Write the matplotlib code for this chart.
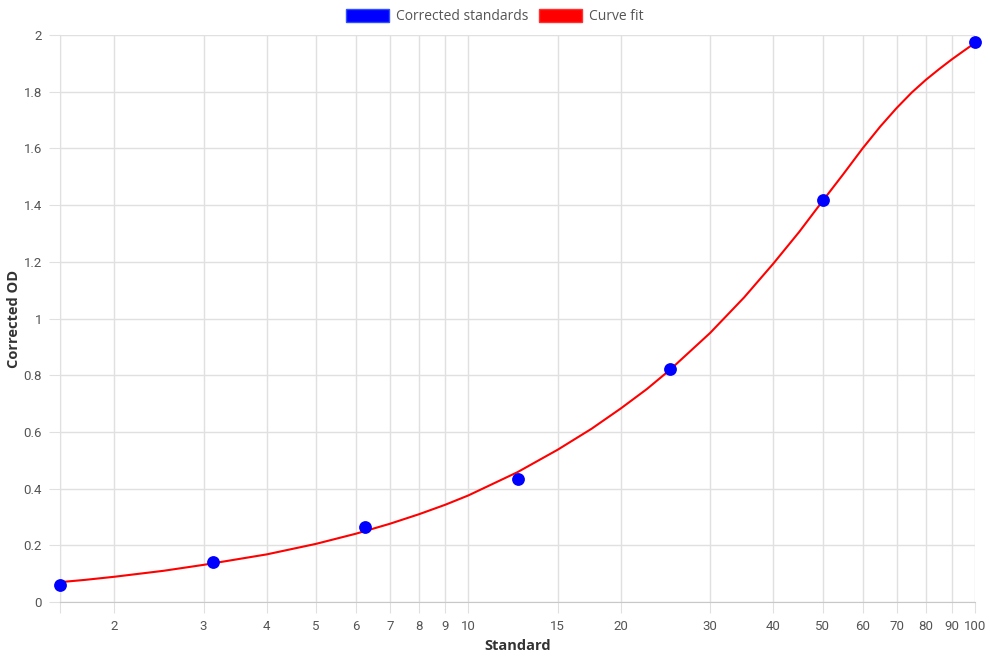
import matplotlib.pyplot as plt
from matplotlib.patches import Patch

# standards (measured points)
std_conc = [1.5625, 3.125, 6.25, 12.5, 25, 50, 100]
std_od = [0.060, 0.141, 0.266, 0.434, 0.823, 1.418, 1.976]

# curve fit
fit_conc = [1.5625, 1.75, 2, 2.5, 3, 4, 5, 6, 7, 8, 9, 10, 12.5, 15, 17.5, 20,
            22.5, 25, 30, 35, 40, 45, 50, 55, 60, 65, 70, 75, 80, 85, 90, 95, 100]
fit_od = [0.070, 0.078, 0.089, 0.110, 0.131, 0.168, 0.205, 0.241, 0.276, 0.310,
          0.343, 0.376, 0.458, 0.537, 0.611, 0.683, 0.751, 0.819, 0.949, 1.074,
          1.194, 1.306, 1.414, 1.510, 1.600, 1.677, 1.742, 1.797, 1.842, 1.880,
          1.914, 1.944, 1.972]

x_ticks = [1.5625, 2, 3, 4, 5, 6, 7, 8, 9, 10, 15, 20, 30, 40, 50, 60, 70, 80, 90, 100]
x_labels = [''] + [str(v) for v in x_ticks[1:]]
y_ticks = [0, 0.2, 0.4, 0.6, 0.8, 1, 1.2, 1.4, 1.6, 1.8, 2]
y_labels = ['0', '0.2', '0.4', '0.6', '0.8', '1', '1.2', '1.4', '1.6', '1.8', '2']

grid_col = '#e0e0e0'
tick_font = 'Roboto'
title_font = 'Open Sans'

fig = plt.figure(figsize=(9.9, 6.6), dpi=100)
ax = fig.add_axes([60 / 990, 1 - 602 / 660, 915 / 990, 567 / 660])

ax.plot(fit_conc, fit_od, color='red', lw=1.5, zorder=3,
        solid_capstyle='round', solid_joinstyle='round')
ax.scatter(std_conc, std_od, s=85, color='blue', zorder=4, linewidths=0, clip_on=False)

ax.set_xscale('log')
ax.set_xlim(1.5625, 100)
ax.set_ylim(0, 2)
ax.set_xticks(x_ticks)
ax.set_xticklabels(x_labels)
ax.minorticks_off()
ax.set_yticks(y_ticks)
ax.set_yticklabels(y_labels)

ax.grid(True, color=grid_col, lw=1)
ax.set_axisbelow(True)
for s in ['top', 'right']:
    ax.spines[s].set_visible(False)
ax.spines['left'].set_color(grid_col)
ax.spines['bottom'].set_color('#c8c8c8')
ax.tick_params(length=8, color=grid_col, labelcolor='#555555', labelsize=9.5)
ax.tick_params(axis='x', pad=5)
ax.tick_params(axis='y', pad=5)
for lab in ax.get_xticklabels() + ax.get_yticklabels():
    lab.set_fontfamily(tick_font)

ax.set_xlabel('Standard', fontsize=10.5, fontweight='bold', color='#333333',
              family=title_font)
ax.set_ylabel('Corrected OD', fontsize=10.5, fontweight='bold', color='#333333',
              family=title_font)
ax.xaxis.set_label_coords(0.5, -0.066)
ax.yaxis.set_label_coords(-0.043, 0.5)

handles = [Patch(facecolor='blue', edgecolor='#3050ff', label='Corrected standards'),
           Patch(facecolor='red', edgecolor='#ff3030', label='Curve fit')]
leg = fig.legend(handles=handles, loc='upper center', bbox_to_anchor=(0.5, 1.005),
                 ncol=2, frameon=False, handlelength=3.1, handleheight=1.0,
                 handletextpad=0.5, columnspacing=0.8,
                 prop={'family': title_font, 'size': 10})
for t in leg.get_texts():
    t.set_color('#555555')

fig.savefig('out.png', dpi=100)
